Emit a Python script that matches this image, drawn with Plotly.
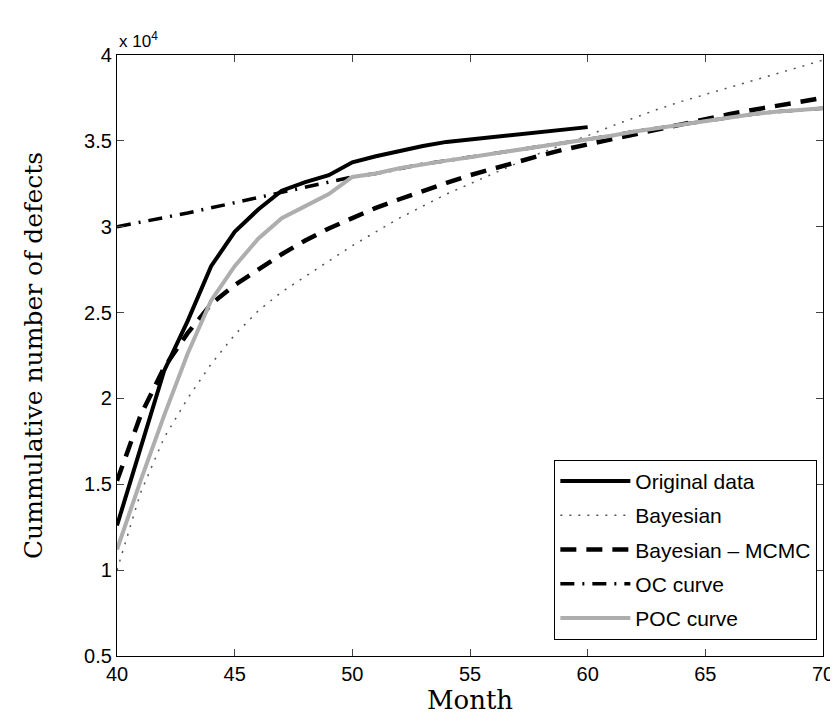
import plotly.graph_objects as go

months = list(range(40, 71))
orig_months = list(range(40, 61))

original = [1.26, 1.71, 2.16, 2.45, 2.77, 2.97, 3.10, 3.21, 3.26, 3.30, 3.375,
            3.41, 3.44, 3.47, 3.494, 3.508, 3.522, 3.537, 3.55, 3.565, 3.58]
bayesian = [1.00, 1.45, 1.77, 2.00, 2.20, 2.37, 2.51, 2.62, 2.71, 2.80, 2.89,
            2.97, 3.05, 3.12, 3.19, 3.25, 3.31, 3.37, 3.43, 3.48, 3.53,
            3.585, 3.635, 3.685, 3.73, 3.77, 3.81, 3.85, 3.89, 3.93, 3.97]
mcmc = [1.52, 1.90, 2.18, 2.38, 2.55, 2.66, 2.75, 2.84, 2.92, 2.99, 3.05,
        3.11, 3.16, 3.21, 3.255, 3.30, 3.34, 3.375, 3.415, 3.45, 3.48,
        3.51, 3.54, 3.57, 3.60, 3.63, 3.655, 3.68, 3.705, 3.725, 3.75]
poc = [1.12, 1.52, 1.90, 2.26, 2.57, 2.77, 2.93, 3.05, 3.12, 3.19, 3.29,
       3.31, 3.34, 3.365, 3.385, 3.405, 3.425, 3.445, 3.47, 3.49, 3.51,
       3.53, 3.555, 3.575, 3.60, 3.62, 3.64, 3.655, 3.67, 3.68, 3.69]
oc = [3.00, 3.025, 3.05, 3.08, 3.11, 3.14, 3.17, 3.20, 3.235, 3.265, 3.29,
      3.31, 3.34, 3.365, 3.385, 3.405, 3.425, 3.445, 3.47, 3.49, 3.51,
      3.53, 3.555, 3.575, 3.60, 3.62, 3.64, 3.655, 3.67, 3.68, 3.69]

scale = 1e4
ytick_vals = [0.5, 1, 1.5, 2, 2.5, 3, 3.5, 4]
ytick_text = ["0.5", "1", "1.5", "2", "2.5", "3", "3.5", "4"]
xtick_vals = [40, 45, 50, 55, 60, 65, 70]

def sc(v):
    return [x * scale for x in v]

fig = go.Figure()
fig.add_trace(go.Scatter(x=orig_months, y=sc(original), mode="lines", name="Original data",
                         legendgroup="g1", line=dict(color="black", width=4)))
fig.add_trace(go.Scatter(x=months, y=sc(bayesian), mode="lines", name="Bayesian",
                         legendgroup="g2", line=dict(color="#555555", width=1.5, dash="2px,7px")))
fig.add_trace(go.Scatter(x=months, y=sc(mcmc), mode="lines", name="Bayesian \u2013 MCMC",
                         legendgroup="g3", line=dict(color="black", width=4.5, dash="16px,10px")))
fig.add_trace(go.Scatter(x=months, y=sc(oc), mode="lines", name="OC curve",
                         legendgroup="g4", line=dict(color="black", width=3.5, dash="14px,8px,2px,8px")))
fig.add_trace(go.Scatter(x=months, y=sc(poc), mode="lines", name="POC curve",
                         legendgroup="g5", line=dict(color="#aeaeae", width=4)))

fig.update_layout(
    width=838, height=715,
    margin=dict(l=109, r=13, t=47, b=67),
    plot_bgcolor="white", paper_bgcolor="white",
    font=dict(family="Liberation Sans, Arial", size=20, color="black"),
    showlegend=True,
    legend=dict(x=0.992, y=0.027, xanchor="right", yanchor="bottom",
                bordercolor="black", borderwidth=1, bgcolor="white",
                font=dict(size=21), tracegroupgap=4, itemwidth=70),
    xaxis=dict(range=[40, 70], tickvals=xtick_vals, ticks="inside", ticklen=7,
               showline=True, linecolor="black", linewidth=1.2, mirror="ticks",
               showgrid=False, zeroline=False,
               title=dict(text="Month", font=dict(family="DejaVu Serif, serif", size=26), standoff=2)),
    yaxis=dict(range=[0.5 * scale, 4 * scale], tickvals=[v * scale for v in ytick_vals],
               ticktext=ytick_text, ticks="inside", ticklen=7,
               showline=True, linecolor="black", linewidth=1.2, mirror="ticks",
               showgrid=False, zeroline=False,
               title=dict(text="Cummulative number of defects",
                          font=dict(family="DejaVu Serif, serif", size=25), standoff=34)),
)
fig.add_annotation(x=0, y=1, xref="paper", yref="paper", xanchor="left", yanchor="bottom",
                   text="x 10<sup>4</sup>", showarrow=False, font=dict(size=17), yshift=2)

fig.write_html("out.html")
